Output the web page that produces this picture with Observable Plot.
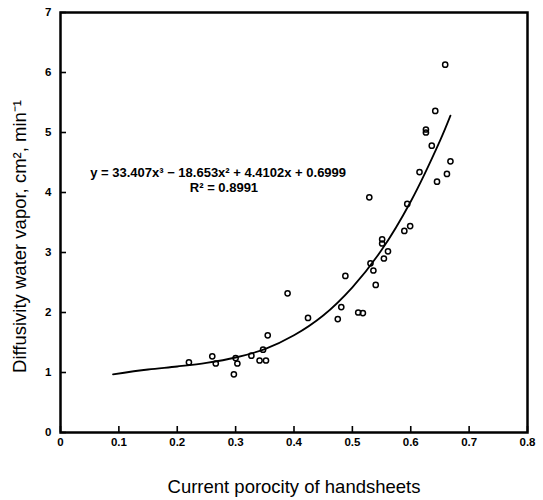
<!DOCTYPE html>
<html>
<head>
<meta charset="utf-8">
<script src="https://cdn.jsdelivr.net/npm/d3@7"></script>
<script src="https://cdn.jsdelivr.net/npm/@observablehq/plot@0.6"></script>
<style>
  html, body { margin: 0; padding: 0; background: #fff; }
  #chart svg { display: block; }
</style>
</head>
<body>
<div id="chart"></div>
<script>
// Observed data points (porosity, diffusivity)
const porosity = [0.220, 0.260, 0.266, 0.297, 0.303, 0.300, 0.327, 0.341, 0.352, 0.347, 0.355,
  0.389, 0.424, 0.475, 0.481, 0.488, 0.510, 0.518, 0.529, 0.531, 0.536, 0.540,
  0.551, 0.551, 0.561, 0.554, 0.589, 0.599, 0.594, 0.615, 0.626, 0.626, 0.636,
  0.642, 0.645, 0.659, 0.662, 0.668];
const diffusivity = [1.17, 1.27, 1.15, 0.97, 1.15, 1.24, 1.28, 1.20, 1.20, 1.38, 1.62,
  2.32, 1.91, 1.89, 2.09, 2.61, 2.00, 1.99, 3.92, 2.82, 2.70, 2.46,
  3.22, 3.15, 3.02, 2.90, 3.36, 3.44, 3.81, 4.34, 5.05, 5.00, 4.78,
  5.36, 4.18, 6.13, 4.31, 4.52];

// Fitted trend line
const curveX = [0.09, 0.15, 0.20, 0.25, 0.30, 0.35, 0.40, 0.45, 0.50, 0.55, 0.60, 0.65, 0.668];
const curveY = [0.97, 1.05, 1.10, 1.16, 1.25, 1.39, 1.62, 1.95, 2.42, 3.04, 3.85, 4.86, 5.28];

// Tick values and labels
const xTicks = [0, 0.1, 0.2, 0.3, 0.4, 0.5, 0.6, 0.7, 0.8];
const xTickLabels = ["0", "0.1", "0.2", "0.3", "0.4", "0.5", "0.6", "0.7", "0.8"];
const yTicks = [0, 1, 2, 3, 4, 5, 6, 7];
const yTickLabels = ["0", "1", "2", "3", "4", "5", "6", "7"];

// Annotation texts
const eqText = ["y = 33.407x\u00B3 \u2212 18.653x\u00B2 + 4.4102x + 0.6999", "R\u00B2 = 0.8991"];
const eqX = [0.270, 0.280];
const eqY = [4.32, 4.07];
const xLabel = "Current porocity of handsheets";
const yLabel = "Diffusivity water vapor, cm\u00B2, min\u207B\u00B9";

const points = porosity.map((x, i) => ({x, y: diffusivity[i]}));
const curve = curveX.map((x, i) => ({x, y: curveY[i]}));
const notes = eqText.map((t, i) => ({t, x: eqX[i], y: eqY[i]}));

const font = "'Liberation Sans', Arial, sans-serif";

const chart = Plot.plot({
  width: 543,
  height: 500,
  marginLeft: 60,
  marginRight: 16,
  marginTop: 12,
  marginBottom: 68,
  style: {fontFamily: font, background: "#fff", color: "#000"},
  x: {domain: [0, 0.8]},
  y: {domain: [0, 7]},
  marks: [
    Plot.line(curve, {x: "x", y: "y", curve: "catmull-rom", stroke: "#000", strokeWidth: 1.8}),
    Plot.dot(points, {x: "x", y: "y", r: 2.6, stroke: "#000", strokeWidth: 1.5, fill: "none"}),
    Plot.text(notes, {x: "x", y: "y", text: "t", fontSize: 13, fontWeight: "bold", fill: "#000", textAnchor: "middle"}),
    // inward tick marks
    Plot.tickX(xTicks, {x: d => d, insetTop: 414, stroke: "#000", strokeWidth: 1.6}),
    Plot.tickY(yTicks, {y: d => d, insetRight: 461, stroke: "#000", strokeWidth: 1.6}),
    // tick labels
    Plot.axisX({ticks: xTicks, tickSize: 0, tickPadding: 5, tickFormat: (d, i) => xTickLabels[i],
      fontSize: 11.5, fontWeight: "bold", label: null}),
    Plot.axisY({ticks: yTicks, tickSize: 0, tickPadding: 9, tickFormat: (d, i) => yTickLabels[i],
      fontSize: 11.5, fontWeight: "bold", label: null}),
    Plot.frame({stroke: "#000", strokeWidth: 2.5}),
    Plot.text([xLabel], {frameAnchor: "bottom", dy: 55, fontSize: 18.5, fill: "#000", lineAnchor: "middle"}),
    Plot.text([yLabel], {frameAnchor: "left", dx: -40, dy: 14, rotate: -90, textAnchor: "middle", fontSize: 18.5, fill: "#000"})
  ]
});

document.getElementById("chart").appendChild(chart);
</script>
</body>
</html>
